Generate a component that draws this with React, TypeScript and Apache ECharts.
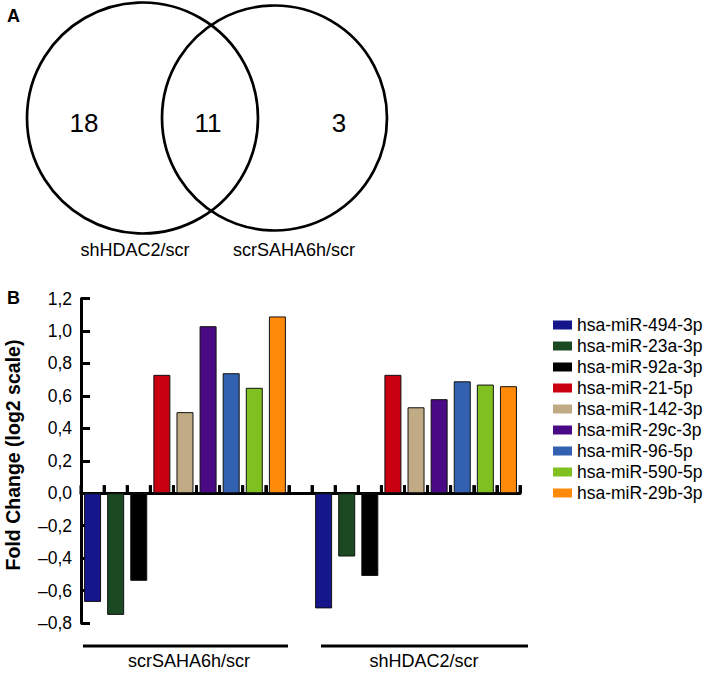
import React, { useEffect, useRef } from "react";
import * as echarts from "echarts";

// ---- data ----
const mirnas = [
  "hsa-miR-494-3p",
  "hsa-miR-23a-3p",
  "hsa-miR-92a-3p",
  "hsa-miR-21-5p",
  "hsa-miR-142-3p",
  "hsa-miR-29c-3p",
  "hsa-miR-96-5p",
  "hsa-miR-590-5p",
  "hsa-miR-29b-3p",
];
const colors = [
  "#16168c",
  "#1b4a22",
  "#000000",
  "#c8000f",
  "#c0ab84",
  "#4a0a85",
  "#3161b0",
  "#80c020",
  "#ff8a0a",
];
const groups = ["scrSAHA6h/scr", "shHDAC2/scr"];
const scrSAHA6h = [-0.67, -0.75, -0.54, 0.73, 0.5, 1.03, 0.74, 0.65, 1.09];
const shHDAC2 = [-0.71, -0.39, -0.51, 0.73, 0.53, 0.58, 0.69, 0.67, 0.66];
const groupValues = [scrSAHA6h, shHDAC2];

const vennSets = ["shHDAC2/scr", "scrSAHA6h/scr"];
const vennCounts = [18, 11, 3]; // only left, both, only right

const yMin = -0.8;
const yMax = 1.2;
const yStep = 0.2;

const FONT = "'Liberation Sans', Arial, Helvetica, sans-serif";

export default function App() {
  const ref = useRef<HTMLDivElement>(null);

  useEffect(() => {
    if (!ref.current) return;
    const chart = echarts.init(ref.current, null, { renderer: "svg" });

    // categories: group1 (9 slots), spacer, group2 (9 slots)
    const categories: string[] = [];
    groups.forEach((g, gi) => {
      if (gi > 0) categories.push("gap" + gi);
      mirnas.forEach((m) => categories.push(g + "|" + m));
    });

    const series: any[] = mirnas.map((m, i) => {
      const data: (number | string)[] = categories.map(() => "-");
      groupValues.forEach((vals, gi) => {
        data[gi * (mirnas.length + 1) + i] = vals[i];
      });
      return {
        name: m,
        type: "bar",
        data,
        barWidth: 17,
        barGap: "-100%",
        itemStyle: { color: colors[i], borderColor: "#111", borderWidth: 1 },
      };
    });

    // category-boundary tick marks on the zero line (pointing up)
    const lastIdx = categories.length - 1;
    series.push({
      name: "ticks",
      type: "custom",
      silent: true,
      clip: false,
      z: 10,
      data: categories.map((_, idx) => [idx, 0]),
      renderItem: (params: any, api: any) => {
        const idx = api.value(0);
        const c = api.coord([idx, 0]);
        const w = api.size([1, 0])[0];
        const xs = [c[0] - w / 2];
        if (idx === lastIdx) xs.push(c[0] + w / 2);
        return {
          type: "group",
          children: xs.map((x) => ({
            type: "rect",
            shape: { x: x - 1.5, y: c[1] - 8, width: 3, height: 8 },
            style: { fill: "#000" },
          })),
        };
      },
    });

    const gridLeft = 81;
    const gridRight = 189;
    const gridTop = 298.6;
    const gridBottom = 51;

    const fmt = (v: number) => {
      const s = Math.abs(v).toFixed(1).replace(".", ",");
      return (v < -1e-9 ? "\u2013" : "") + s;
    };

    const option: any = {
      animation: false,
      textStyle: { fontFamily: FONT },
      grid: {
        left: gridLeft,
        right: gridRight,
        top: gridTop,
        bottom: gridBottom,
        containLabel: false,
      },
      legend: {
        orient: "vertical",
        left: 553,
        top: 314.5,
        padding: 0,
        itemGap: 0,
        itemWidth: 19,
        itemHeight: 9,
        icon: "rect",
        itemStyle: { borderWidth: 0 },
        textStyle: { fontSize: 17.5, lineHeight: 21, color: "#000", fontFamily: FONT },
        data: mirnas,
      },
      xAxis: {
        type: "category",
        data: categories,
        axisLine: { onZero: true, lineStyle: { color: "#000", width: 3 } },
        axisTick: {
          show: true,
          inside: true,
          interval: 0,
          length: 8,
          lineStyle: { color: "#000", width: 3 },
        },
        axisLabel: { show: false },
        splitLine: { show: false },
      },
      yAxis: {
        type: "value",
        min: yMin,
        max: yMax,
        interval: yStep,
        axisLine: { show: true, onZero: false, lineStyle: { color: "#000", width: 3 } },
        axisTick: { show: true, inside: true, length: 9, lineStyle: { color: "#000", width: 3 } },
        axisLabel: {
          color: "#000",
          fontSize: 17.5,
          fontFamily: FONT,
          margin: 9,
          formatter: fmt,
        },
        splitLine: { show: false },
      },
      series,
      graphic: [
        // Panel letters
        { type: "text", left: 7, top: 7, style: { text: "A", font: `bold 18px ${FONT}`, fill: "#000" } },
        { type: "text", left: 7, top: 289, style: { text: "B", font: `bold 18px ${FONT}`, fill: "#000" } },
        // Venn circles
        { type: "circle", shape: { cx: 142.5, cy: 118, r: 115.5 }, style: { fill: "none", stroke: "#000", lineWidth: 2.7 } },
        { type: "circle", shape: { cx: 274.5, cy: 118, r: 112.5 }, style: { fill: "none", stroke: "#000", lineWidth: 2.7 } },
        // Venn counts
        ...[84, 208, 339].map((x, i) => ({
          type: "text",
          x,
          y: 123,
          style: {
            text: String(vennCounts[i]),
            font: `26px ${FONT}`,
            fill: "#000",
            textAlign: "center",
            textVerticalAlign: "middle",
          },
        })),
        // Venn set labels
        ...[135, 294].map((x, i) => ({
          type: "text",
          x,
          y: 250,
          style: {
            text: vennSets[i],
            font: `18px ${FONT}`,
            fill: "#000",
            textAlign: "center",
            textVerticalAlign: "middle",
          },
        })),
        // Y axis title
        {
          type: "text",
          x: 12.5,
          y: 455,
          rotation: Math.PI / 2,
          style: {
            text: "Fold Change (log2 scale)",
            font: `bold 19.5px ${FONT}`,
            fill: "#000",
            textAlign: "center",
            textVerticalAlign: "middle",
          },
        },
        // Group underlines
        { type: "line", shape: { x1: 83, y1: 646, x2: 288, y2: 646 }, style: { stroke: "#000", lineWidth: 3 } },
        { type: "line", shape: { x1: 321, y1: 646, x2: 528, y2: 646 }, style: { stroke: "#000", lineWidth: 3 } },
        // Group labels
        ...[189, 424].map((x, i) => ({
          type: "text",
          x,
          y: 661,
          style: {
            text: groups[i],
            font: `18px ${FONT}`,
            fill: "#000",
            textAlign: "center",
            textVerticalAlign: "middle",
          },
        })),
      ],
    };

    chart.setOption(option);
    return () => chart.dispose();
  }, []);

  return (
    <div
      ref={ref}
      style={{ position: "absolute", left: 0, top: 0, width: 709, height: 674, background: "#fff" }}
    />
  );
}
